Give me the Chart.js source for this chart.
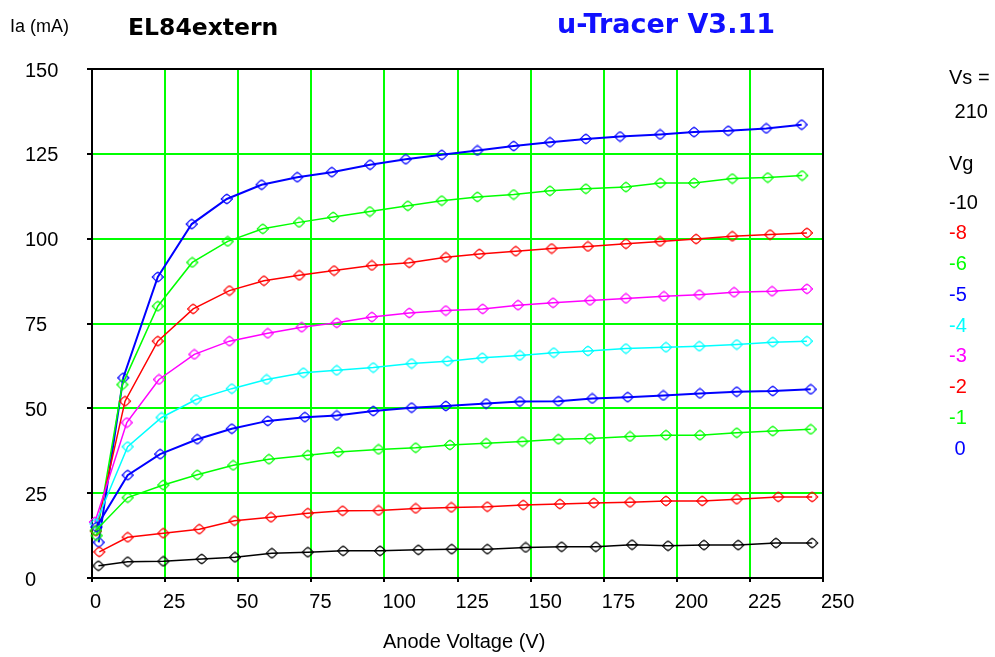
<!DOCTYPE html>
<html>
<head>
<meta charset="utf-8">
<script src="https://cdn.jsdelivr.net/npm/chart.js@4.4.1/dist/chart.umd.min.js"></script>
<style>
html, body { margin: 0; padding: 0; background: #fff; }
#wrap { position: relative; width: 995px; height: 657px; }
</style>
</head>
<body>
<div id="wrap"><canvas id="trace"></canvas></div>
<script>
// grid voltages, bottom curve first
const vgSteps = [-10, -8, -6, -5, -4, -3, -2, -1, 0];
const curveColors = ["#000000", "#ff0000", "#00ff00", "#0000ff", "#00ffff", "#ff00ff", "#ff0000", "#00ff00", "#0000ff"];
const xTicks = [0, 25, 50, 75, 100, 125, 150, 175, 200, 225, 250];
const yTicks = [0, 25, 50, 75, 100, 125, 150];

// anode voltage (V) and anode current (mA) per grid voltage
const vaM10 = [2.2, 12.2, 24.4, 37.5, 48.9, 61.5, 73.8, 85.9, 98.5, 111.6, 123, 135.2, 148.3, 160.6, 172.3, 184.7, 197, 209.3, 221, 233.9, 246.3];
const iaM10 = [3.6, 4.8, 4.9, 5.6, 6.1, 7.3, 7.6, 8.0, 8.0, 8.3, 8.5, 8.5, 9.0, 9.2, 9.2, 9.8, 9.5, 9.7, 9.7, 10.3, 10.3];

const vaM8 = [2.5, 12.2, 24.4, 36.7, 48.7, 61.2, 73.8, 85.7, 98, 110.7, 122.9, 135.2, 147.5, 160, 171.6, 184, 196.3, 208.7, 220.5, 234.7, 246.3];
const iaM8 = [7.7, 12.0, 13.2, 14.4, 16.9, 17.9, 19.1, 19.8, 19.9, 20.5, 20.8, 21.0, 21.5, 21.8, 22.1, 22.3, 22.7, 22.7, 23.2, 23.9, 23.9];

const vaM6 = [1.3, 12.2, 24.4, 36.0, 48.3, 60.5, 73.8, 84.2, 98, 110.7, 122.4, 134.8, 147.2, 159.5, 170.3, 184, 196.3, 207.9, 220.5, 232.8, 245.8];
const iaM6 = [14.0, 23.7, 27.4, 30.4, 33.2, 35.0, 36.2, 37.1, 37.9, 38.4, 39.2, 39.7, 40.2, 40.9, 41.1, 41.7, 42.1, 42.1, 42.8, 43.3, 43.8];

const vaM5 = [1.5, 12.2, 23.3, 36.0, 47.8, 60.1, 72.8, 83.7, 96.2, 109.3, 121, 134.8, 146.3, 159.5, 171.1, 183.2, 195.4, 207.9, 220.5, 232.8, 245.8];
const iaM5 = [15.0, 30.3, 36.5, 40.9, 44.0, 46.3, 47.4, 47.9, 49.2, 50.2, 50.7, 51.4, 52.0, 52.1, 52.9, 53.3, 53.8, 54.4, 54.9, 55.1, 55.6];

const vaM4 = [1.2, 12.2, 23.8, 35.6, 47.8, 59.7, 72.3, 83.7, 96.2, 109.3, 121.6, 133.5, 146.3, 157.9, 169.6, 182.6, 196.3, 207.7, 220.5, 232.8, 244.5];
const iaM4 = [16.0, 38.7, 47.3, 52.6, 55.8, 58.5, 60.5, 61.2, 62.0, 63.2, 63.9, 64.9, 65.6, 66.4, 66.9, 67.6, 68.0, 68.3, 68.8, 69.5, 69.8];

const vaM3 = [1.0, 11.9, 22.9, 35.0, 47.0, 60.1, 71.7, 83.7, 95.7, 108.5, 121, 133.6, 145.7, 157.7, 170.3, 182.6, 195.6, 207.7, 219.6, 232.6, 244.5];
const iaM3 = [16.5, 45.8, 58.5, 65.9, 69.8, 72.1, 73.9, 75.2, 76.9, 78.1, 78.8, 79.3, 80.4, 81.1, 81.8, 82.4, 83.0, 83.5, 84.2, 84.5, 85.2];

const vaM2 = [1.3, 11.3, 22.5, 34.6, 47, 58.8, 70.9, 82.8, 95.7, 108.5, 121, 132.5, 144.9, 157.2, 169.6, 182.6, 194.3, 206.6, 219, 231.9, 244.5];
const iaM2 = [13.8, 52.1, 69.8, 79.3, 84.7, 87.6, 89.2, 90.6, 92.1, 92.9, 94.5, 95.5, 96.3, 97.1, 97.7, 98.5, 99.2, 99.9, 100.7, 101.2, 101.7];

const vaM1 = [1.6, 10.4, 22.5, 34.3, 46.4, 58.4, 70.8, 82.5, 95, 108, 119.6, 131.8, 144.2, 156.6, 168.9, 182.6, 194.4, 205.9, 219, 231.1, 242.9];
const iaM1 = [12.5, 57.0, 80.1, 93.0, 99.2, 102.9, 104.8, 106.4, 108.0, 109.7, 111.2, 112.3, 113.0, 114.1, 114.7, 115.2, 116.4, 116.4, 117.7, 118.0, 118.6];

const va0 = [2.3, 10.7, 22.5, 34.1, 46.1, 58.0, 70.2, 82.0, 95.1, 107.3, 119.6, 131.8, 144.2, 156.6, 168.9, 180.6, 194.3, 205.9, 217.6, 230.6, 242.7];
const ia0 = [10.5, 59.0, 88.7, 104.3, 111.7, 115.9, 118.1, 119.6, 121.8, 123.4, 124.7, 126.0, 127.3, 128.4, 129.4, 130.1, 130.7, 131.4, 131.8, 132.5, 133.6];

const screenVolts = 210;

const curveVolts = [vaM10, vaM8, vaM6, vaM5, vaM4, vaM3, vaM2, vaM1, va0];
const curveAmps = [iaM10, iaM8, iaM6, iaM5, iaM4, iaM3, iaM2, iaM1, ia0];

function vgText(v) {
    return v < 0 ? String(v) : " " + v;
}

// tracer marker: small diamond laid over a circle
function makeMarker(color) {
    const c = document.createElement("canvas");
    c.width = 14;
    c.height = 12;
    const g = c.getContext("2d");
    g.strokeStyle = color;
    g.lineWidth = 1;
    g.beginPath();
    g.moveTo(1, 6);
    g.lineTo(7, 0.8);
    g.lineTo(13, 6);
    g.lineTo(7, 11.2);
    g.closePath();
    g.stroke();
    g.beginPath();
    g.arc(7, 6, 4.2, 0, Math.PI * 2);
    g.stroke();
    return c;
}

var datasets = [];
for (var i = 0; i < vgSteps.length; i++) {
    var pts = curveVolts[i].map((v, k) => ({ x: v, y: curveAmps[i][k] }));
    var isBlue = curveColors[i] == "#0000ff";
    datasets.push({
        label: "Vg " + vgSteps[i],
        data: pts,
        borderColor: curveColors[i],
        backgroundColor: "rgba(0,0,0,0)",
        borderWidth: isBlue ? 2 : 1.5,
        pointRadius: 6,
        pointStyle: makeMarker(curveColors[i]),
        tension: 0,
        clip: 8
    });
}

// frame, title and side texts drawn straight onto the canvas
const tracerTexts = {
    id: "tracerTexts",
    beforeDatasetsDraw(chart) {
        const ctx = chart.ctx, a = chart.chartArea;
        ctx.save();
        ctx.strokeStyle = "#000";
        ctx.lineWidth = 2;
        ctx.strokeRect(a.left, a.top, a.right - a.left, a.bottom - a.top);
        ctx.restore();
    },
    afterDraw(chart) {
        const ctx = chart.ctx;
        ctx.save();
        ctx.textBaseline = "middle";
        ctx.textAlign = "left";
        ctx.fillStyle = "#000";

        ctx.font = "18px 'Liberation Sans', Arial, sans-serif";
        ctx.fillText("Ia (mA)", 10, 27);

        ctx.font = "bold 23.5px 'DejaVu Sans', sans-serif";
        ctx.fillText("EL84extern", 128, 29);

        ctx.fillStyle = "#1010ff";
        ctx.font = "bold 27px 'DejaVu Sans', sans-serif";
        ctx.fillText("u-Tracer V3.11", 557, 26);

        ctx.fillStyle = "#000";
        ctx.font = "20px 'Liberation Sans', Arial, sans-serif";
        ctx.fillText("Anode Voltage (V)", 383, 642);

        ctx.fillText("Vs =", 949, 78);
        ctx.fillText(" " + screenVolts, 949, 112);
        ctx.fillText("Vg", 949, 164);
        for (var i = 0; i < vgSteps.length; i++) {
            ctx.fillStyle = curveColors[i];
            ctx.fillText(vgText(vgSteps[i]), 949, 203 + i * 30.75);
        }
        ctx.restore();
    }
};

Chart.defaults.color = "#000";
Chart.defaults.font.family = "'Liberation Sans', Arial, sans-serif";

new Chart(document.getElementById("trace"), {
    type: "line",
    data: { datasets: datasets },
    options: {
        responsive: true,
        maintainAspectRatio: false,
        animation: false,
        layout: { padding: { left: 25, top: 69, right: 172, bottom: 0 } },
        plugins: {
            legend: { display: false },
            tooltip: { enabled: false }
        },
        scales: {
            x: {
                type: "linear",
                min: 0,
                max: 250,
                afterBuildTicks: s => { s.ticks = xTicks.map(v => ({ value: v })); },
                afterFit: s => { s.height = 79; },
                border: { display: false },
                grid: { color: "#00ff00", lineWidth: 2, tickColor: "#000", tickLength: 4 },
                ticks: { align: "start", labelOffset: -2, padding: 8, maxRotation: 0, autoSkip: false,
                         font: { size: 20 } }
            },
            y: {
                type: "linear",
                min: 0,
                max: 150,
                afterBuildTicks: s => { s.ticks = yTicks.map(v => ({ value: v })); },
                afterFit: s => { s.width = 67; },
                border: { display: false },
                grid: { color: "#00ff00", lineWidth: 2, tickColor: "#000", tickLength: 5 },
                ticks: { crossAlign: "far", labelOffset: 2, autoSkip: false, font: { size: 20 } }
            }
        }
    },
    plugins: [tracerTexts]
});
</script>
</body>
</html>
